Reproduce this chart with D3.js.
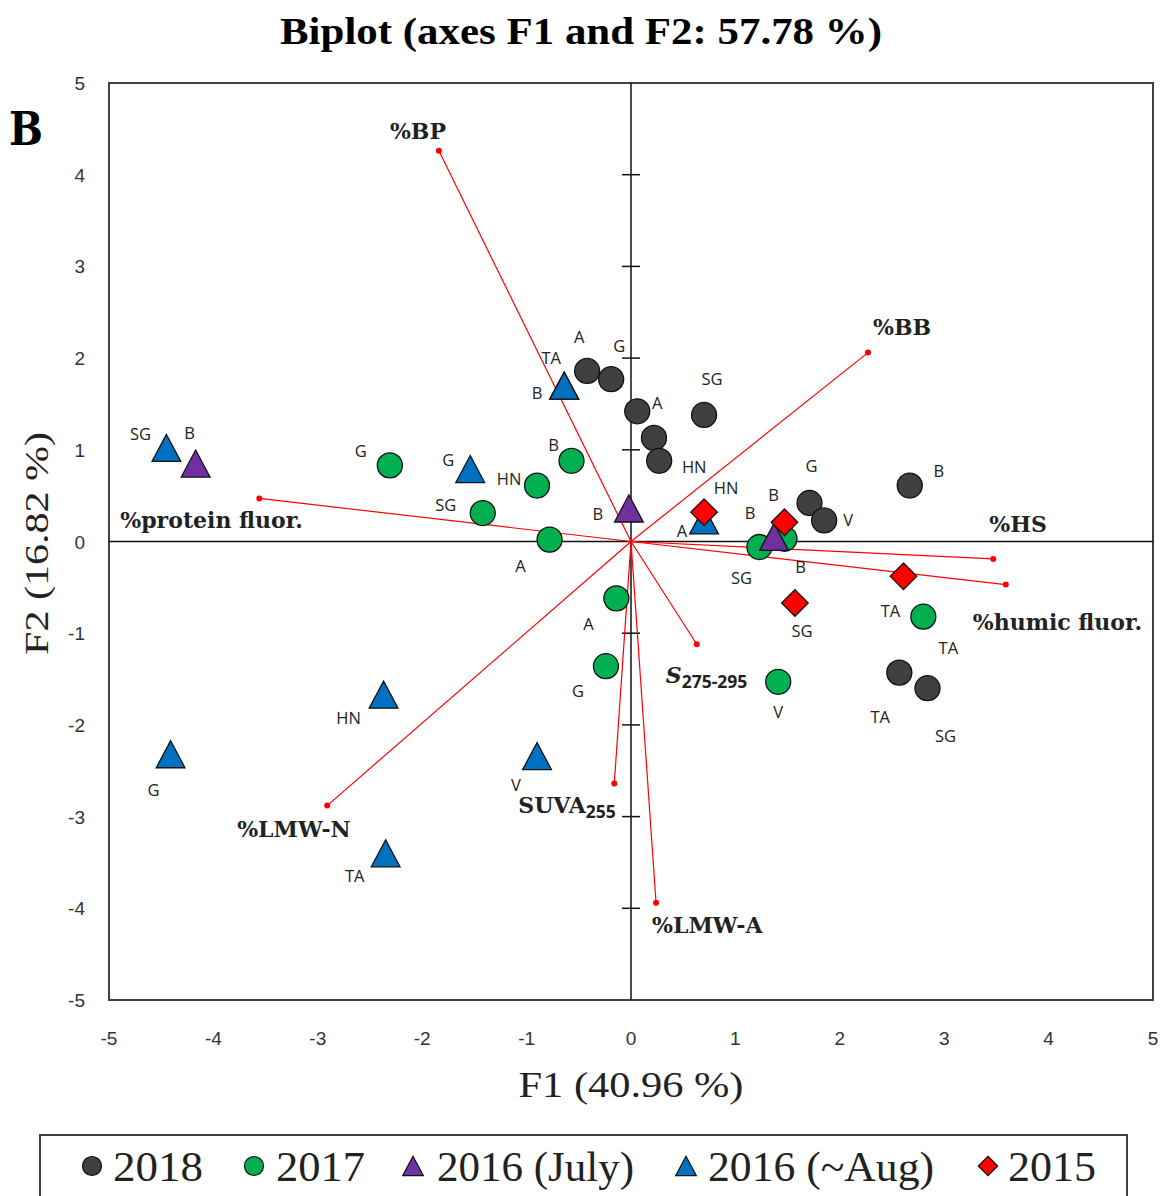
<!DOCTYPE html>
<html>
<head>
<meta charset="utf-8">
<script src="https://cdn.jsdelivr.net/npm/d3@7"></script>
<style>
  html, body { margin: 0; padding: 0; background: #fff; }
  svg { display: block; }
</style>
</head>
<body>
<svg id="chart" width="1162" height="1196"></svg>
<script>
// ---- PCA biplot data: observations (scores) ----
const seriesNames = ["2018", "2017", "2016 (July)", "2016 (~Aug)", "2015"];

const f1_2018 = [-0.42, -0.19, 0.06, 0.70, 0.22, 0.27, 1.71, 1.85, 2.67, 2.57, 2.84];
const f2_2018 = [1.86, 1.77, 1.42, 1.38, 1.13, 0.88, 0.42, 0.23, 0.61, -1.43, -1.60];
const site_2018 = ["A", "G", "A", "SG", "", "HN", "G", "V", "B", "TA", "SG"];

const f1_2017 = [-2.31, -1.42, -0.90, -0.57, -0.78, -0.14, -0.24, 1.41, 2.80, 1.23, 1.47];
const f2_2017 = [0.83, 0.31, 0.61, 0.88, 0.02, -0.62, -1.36, -1.53, -0.82, -0.06, 0.03];
const site_2017 = ["G", "SG", "HN", "B", "A", "A", "G", "V", "TA", "SG", "B"];

const f1_2016jul = [-4.17, -0.02, 1.37];
const f2_2016jul = [0.85, 0.36, 0.05];
const site_2016jul = ["B", "B", "B"];

const f1_2016aug = [-4.45, -1.54, -0.64, -0.64, 0.70, -2.37, -4.41, -0.90, -2.35];
const f2_2016aug = [1.02, 0.79, 1.70, 1.70, 0.23, -1.67, -2.32, -2.34, -3.40];
const site_2016aug = ["SG", "G", "TA", "B", "A", "HN", "G", "V", "TA"];

const f1_2015 = [0.70, 1.47, 2.61, 1.57];
const f2_2015 = [0.32, 0.21, -0.38, -0.67];
const site_2015 = ["HN", "B", "TA", "SG"];

// ---- variables (loadings) ----
const varNames = ["%BP", "%BB", "%HS", "%humic fluor.", "S275-295", "SUVA255", "%LMW-A", "%LMW-N", "%protein fluor."];
const varF1 = [-1.84, 2.27, 3.47, 3.59, 0.63, -0.16, 0.24, -2.91, -3.56];
const varF2 = [4.26, 2.06, -0.19, -0.47, -1.12, -2.64, -3.94, -2.88, 0.47];

// ---- axis ticks ----
const xTicks = [-5, -4, -3, -2, -1, 0, 1, 2, 3, 4, 5];
const yTicks = [-5, -4, -3, -2, -1, 0, 1, 2, 3, 4, 5];

// ---- label placement (pixel offsets from the mark) ----
const siteOffsets = {
  "2018": [[-8,-34],[8,-33],[20,-8],[8,-36],[0,0],[35,6],[2,-37],[24,0],[29,-15],[-19,44],[18,48]],
  "2017": [[-29,-14],[-37,-8],[-28,-7],[-18,-16],[-29,26],[-28,26],[-28,25],[0,30],[25,31],[-18,31],[16,28]],
  "2016 (July)": [[-6,-31],[-31,6],[-24,-24]],
  "2016 (~Aug)": [[-26,-14],[-22,-9],[-13,-28],[-27,7],[-22,11],[-35,23],[-17,36],[-21,29],[-31,23]],
  "2015": [[22,-24],[-11,-27],[-13,35],[7,28]]
};
const varLabelOffsets = [[-49,-12],[5,-18],[-4,-27],[-33,45],[-31,39],[-96,29],[-4,30],[-90,31],[-139,30]];

const colors = {
  "2018": "#404040",
  "2017": "#00b050",
  "2016 (July)": "#7030a0",
  "2016 (~Aug)": "#0070c0",
  "2015": "#ff0000"
};
const shapes = {
  "2018": "circle", "2017": "circle",
  "2016 (July)": "triangle", "2016 (~Aug)": "triangle",
  "2015": "diamond"
};

const series = [
  { name: "2018", f1: f1_2018, f2: f2_2018, site: site_2018 },
  { name: "2017", f1: f1_2017, f2: f2_2017, site: site_2017 },
  { name: "2016 (~Aug)", f1: f1_2016aug, f2: f2_2016aug, site: site_2016aug },
  { name: "2016 (July)", f1: f1_2016jul, f2: f2_2016jul, site: site_2016jul },
  { name: "2015", f1: f1_2015, f2: f2_2015, site: site_2015 }
];

const svg = d3.select("#chart");
const plot = { left: 109, right: 1153, top: 83, bottom: 1000 };

const x = d3.scaleLinear().domain([-5, 5]).range([plot.left, plot.right]);
const y = d3.scaleLinear().domain([-5, 5]).range([plot.bottom, plot.top]);

// marker path generators
function markerPath(shape, s) {
  if (shape === "circle") {
    return d3.symbol().type(d3.symbolCircle).size(Math.PI * s * s)();
  }
  if (shape === "triangle") {
    const w = s * 1.15, h = s * 1.08;
    return `M0,${-h}L${w},${h}L${-w},${h}Z`;
  }
  // diamond
  return `M0,${-s * 1.08}L${s * 1.08},0L0,${s * 1.08}L${-s * 1.08},0Z`;
}
const markerSize = { circle: 12.5, triangle: 12.5, diamond: 12.3 };

// ---- title ----
svg.append("text")
  .attr("x", 581).attr("y", 44)
  .attr("text-anchor", "middle")
  .attr("font-family", "Liberation Serif, serif")
  .attr("font-weight", "bold")
  .attr("font-size", 38)
  .attr("textLength", 602)
  .attr("lengthAdjust", "spacingAndGlyphs")
  .text("Biplot (axes F1 and F2: 57.78 %)");

// panel letter
svg.append("text")
  .attr("x", 9).attr("y", 145)
  .attr("font-family", "DejaVu Serif, serif")
  .attr("font-weight", "bold")
  .attr("font-size", 46)
  .attr("textLength", 34)
  .attr("lengthAdjust", "spacingAndGlyphs")
  .text("B");

// ---- frame ----
svg.append("rect")
  .attr("x", plot.left).attr("y", plot.top)
  .attr("width", plot.right - plot.left).attr("height", plot.bottom - plot.top)
  .attr("fill", "none").attr("stroke", "#404040").attr("stroke-width", 2);

// ---- tick labels ----
svg.append("g").selectAll("text").data(yTicks).join("text")
  .attr("x", 85).attr("y", d => y(d) + 7)
  .attr("text-anchor", "end")
  .attr("font-family", "Liberation Sans, sans-serif")
  .attr("font-size", 19)
  .attr("fill", "#333")
  .text(d => d);

svg.append("g").selectAll("text").data(xTicks).join("text")
  .attr("x", d => x(d)).attr("y", 1045)
  .attr("text-anchor", "middle")
  .attr("font-family", "Liberation Sans, sans-serif")
  .attr("font-size", 19)
  .attr("fill", "#333")
  .text(d => d);

// ---- axis titles ----
svg.append("text")
  .attr("x", x(0)).attr("y", 1097)
  .attr("text-anchor", "middle")
  .attr("font-family", "Liberation Serif, serif")
  .attr("font-size", 36)
  .attr("fill", "#222")
  .attr("textLength", 225)
  .attr("lengthAdjust", "spacingAndGlyphs")
  .text("F1 (40.96 %)");

svg.append("text")
  .attr("transform", `translate(48,${y(0) + 2}) rotate(-90)`)
  .attr("text-anchor", "middle")
  .attr("font-family", "Liberation Serif, serif")
  .attr("font-size", 34)
  .attr("fill", "#222")
  .attr("textLength", 223)
  .attr("lengthAdjust", "spacingAndGlyphs")
  .text("F2 (16.82 %)");

// ---- zero axes ----
svg.append("line")
  .attr("x1", plot.left).attr("x2", plot.right)
  .attr("y1", y(0)).attr("y2", y(0))
  .attr("stroke", "#111").attr("stroke-width", 1.5);
svg.append("line")
  .attr("x1", x(0)).attr("x2", x(0))
  .attr("y1", plot.top).attr("y2", plot.bottom)
  .attr("stroke", "#111").attr("stroke-width", 1.5);

// tick marks crossing the vertical zero axis
svg.append("g").selectAll("line").data(yTicks.filter(d => d !== 0 && Math.abs(d) < 5)).join("line")
  .attr("x1", x(0) - 9).attr("x2", x(0) + 9)
  .attr("y1", d => y(d)).attr("y2", d => y(d))
  .attr("stroke", "#111").attr("stroke-width", 1.5);

// ---- loading vectors ----
const vars = varNames.map((n, i) => ({ name: n, f1: varF1[i], f2: varF2[i], off: varLabelOffsets[i] }));
const vg = svg.append("g");
vg.selectAll("line").data(vars).join("line")
  .attr("x1", x(0)).attr("y1", y(0))
  .attr("x2", d => x(d.f1)).attr("y2", d => y(d.f2))
  .attr("stroke", "#ff0000").attr("stroke-width", 1.2);
vg.selectAll("circle").data(vars).join("circle")
  .attr("cx", d => x(d.f1)).attr("cy", d => y(d.f2))
  .attr("r", 3).attr("fill", "#ff0000");

// ---- observation markers ----
series.forEach(s => {
  const shape = shapes[s.name];
  const pts = s.f1.map((v, i) => ({ f1: v, f2: s.f2[i], site: s.site[i], off: siteOffsets[s.name][i] }));
  const g = svg.append("g");
  g.selectAll("path").data(pts).join("path")
    .attr("transform", d => `translate(${x(d.f1)},${y(d.f2)})`)
    .attr("d", markerPath(shape, markerSize[shape]))
    .attr("fill", colors[s.name])
    .attr("stroke", "#111").attr("stroke-width", 1.3);
  s.labels = pts;
});

// site labels drawn above all markers
series.forEach(s => {
  svg.append("g").selectAll("text").data(s.labels.filter(d => d.site)).join("text")
    .attr("x", d => x(d.f1) + d.off[0])
    .attr("y", d => y(d.f2) + d.off[1] + 6)
    .attr("text-anchor", "middle")
    .attr("font-family", "Open Sans, sans-serif")
    .attr("font-size", 16.5)
    .attr("fill", "#222")
    .text(d => d.site);
});

// variable labels
const serifBold = "DejaVu Serif, serif";
vars.forEach(d => {
  const t = svg.append("text")
    .attr("x", x(d.f1) + d.off[0])
    .attr("y", y(d.f2) + d.off[1])
    .attr("font-family", serifBold)
    .attr("font-weight", "bold")
    .attr("font-size", 22)
    .attr("fill", "#222");
  if (d.name === "S275-295") {
    t.append("tspan").attr("font-style", "italic").text("S");
    t.append("tspan").attr("font-size", 17.5).attr("dy", 5)
      .attr("font-family", "Open Sans, sans-serif").text("275-295");
  } else if (d.name === "SUVA255") {
    t.append("tspan").text("SUVA");
    t.append("tspan").attr("font-size", 17.5).attr("dy", 5)
      .attr("font-family", "Open Sans, sans-serif").text("255");
  } else {
    t.text(d.name);
  }
});

// ---- legend ----
const legend = svg.append("g");
legend.append("rect")
  .attr("x", 40).attr("y", 1135).attr("width", 1087).attr("height", 80)
  .attr("fill", "#fff").attr("stroke", "#404040").attr("stroke-width", 2);

const legendItems = [
  { name: "2018", mx: 92, tx: 113, w: 90 },
  { name: "2017", mx: 254, tx: 276, w: 89 },
  { name: "2016 (July)", mx: 413, tx: 437, w: 197 },
  { name: "2016 (~Aug)", mx: 686, tx: 708, w: 226 },
  { name: "2015", mx: 988, tx: 1008, w: 88 }
];
legendItems.forEach(it => {
  const shape = shapes[it.name];
  legend.append("path")
    .attr("transform", `translate(${it.mx},${1166})`)
    .attr("d", markerPath(shape, shape === "circle" ? 9.5 : 9))
    .attr("fill", colors[it.name])
    .attr("stroke", "#111").attr("stroke-width", 1.2);
  legend.append("text")
    .attr("x", it.tx).attr("y", 1181)
    .attr("font-family", "Liberation Serif, serif")
    .attr("font-size", 42)
    .attr("fill", "#222")
    .attr("textLength", it.w)
    .attr("lengthAdjust", "spacingAndGlyphs")
    .text(it.name);
});
</script>
</body>
</html>
